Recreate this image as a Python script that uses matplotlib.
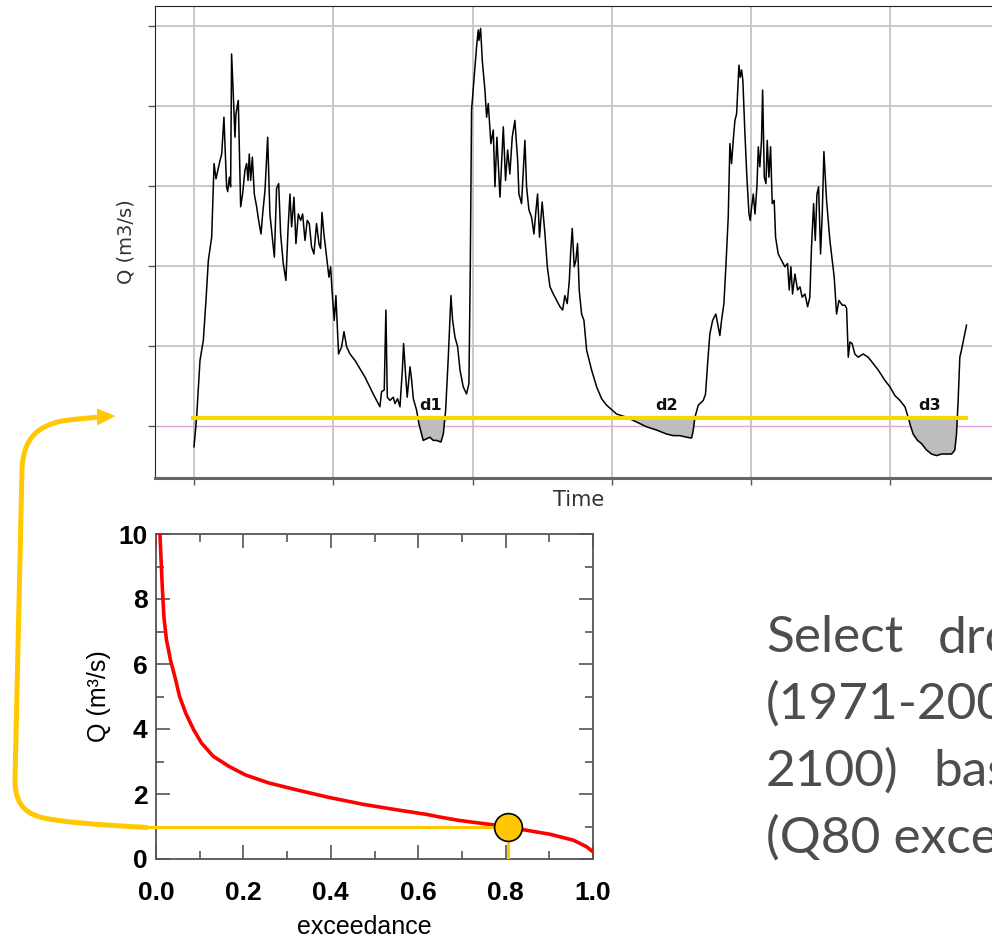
import numpy as np
import matplotlib
matplotlib.use("Agg")
import matplotlib.pyplot as plt
from matplotlib.path import Path
from matplotlib.patches import PathPatch, Polygon
from matplotlib.transforms import Affine2D

W, H = 992, 942

# hydrograph (time in grid steps, Q in grid units)
time = [
    0.000, 0.019, 0.043, 0.067, 0.086, 0.103, 0.127, 0.144, 0.158, 0.187,
    0.199, 0.215, 0.234, 0.242, 0.254, 0.263, 0.270, 0.282, 0.294, 0.301,
    0.318, 0.335, 0.349, 0.366, 0.378, 0.388, 0.397, 0.407, 0.419, 0.433,
    0.450, 0.464, 0.481, 0.493, 0.510, 0.529, 0.545, 0.577, 0.593, 0.608,
    0.622, 0.641, 0.660, 0.675, 0.689, 0.701, 0.718, 0.732, 0.749, 0.766,
    0.780, 0.797, 0.813, 0.828, 0.844, 0.861, 0.880, 0.897, 0.909, 0.919,
    0.933, 0.952, 0.969, 0.981, 0.993, 1.007, 1.019, 1.038, 1.060, 1.077,
    1.096, 1.120, 1.156, 1.228, 1.287, 1.335, 1.347, 1.366, 1.378, 1.388,
    1.407, 1.431, 1.443, 1.462, 1.479, 1.496, 1.505, 1.519, 1.531, 1.551,
    1.563, 1.575, 1.598, 1.615, 1.646, 1.670, 1.694, 1.718, 1.742, 1.773,
    1.790, 1.807, 1.826, 1.845, 1.857, 1.874, 1.893, 1.910, 1.933, 1.957,
    1.974, 1.984, 1.993, 2.010, 2.029, 2.041, 2.046, 2.058, 2.070, 2.089,
    2.101, 2.113, 2.132, 2.149, 2.161, 2.175, 2.197, 2.221, 2.237, 2.252,
    2.268, 2.285, 2.304, 2.324, 2.333, 2.352, 2.376, 2.388, 2.405, 2.424,
    2.441, 2.453, 2.467, 2.481, 2.500, 2.520, 2.537, 2.556, 2.580, 2.604,
    2.628, 2.647, 2.663, 2.680, 2.695, 2.704, 2.716, 2.730, 2.742, 2.754,
    2.766, 2.783, 2.800, 2.819, 2.855, 2.891, 2.927, 2.963, 3.034, 3.106,
    3.178, 3.250, 3.321, 3.393, 3.441, 3.489, 3.537, 3.573, 3.585, 3.597,
    3.621, 3.657, 3.673, 3.688, 3.704, 3.724, 3.747, 3.764, 3.776, 3.788,
    3.805, 3.819, 3.836, 3.848, 3.860, 3.872, 3.884, 3.896, 3.913, 3.922,
    3.932, 3.941, 3.956, 3.970, 3.985, 3.994, 4.004, 4.016, 4.028, 4.042,
    4.052, 4.063, 4.075, 4.083, 4.095, 4.107, 4.116, 4.128, 4.140, 4.152,
    4.166, 4.176, 4.195, 4.219, 4.243, 4.262, 4.274, 4.286, 4.298, 4.315,
    4.334, 4.351, 4.367, 4.387, 4.406, 4.422, 4.434, 4.449, 4.461, 4.473,
    4.485, 4.499, 4.511, 4.523, 4.542, 4.566, 4.597, 4.614, 4.631, 4.655,
    4.674, 4.686, 4.698, 4.710, 4.726, 4.745, 4.769, 4.805, 4.841, 4.877,
    4.913, 4.961, 4.997, 5.033, 5.069, 5.105, 5.128, 5.147, 5.164, 5.195,
    5.224, 5.260, 5.296, 5.332, 5.368, 5.404, 5.440, 5.463, 5.475, 5.487,
    5.499, 5.511, 5.530, 5.547,
]
flow = [
    -0.26, 0.11, 0.82, 1.07, 1.57, 2.07, 2.36, 3.28, 3.09, 3.32,
    3.40, 3.86, 2.99, 2.93, 3.11, 2.99, 4.65, 4.15, 3.61, 3.90,
    4.07, 2.74, 2.90, 3.20, 3.28, 3.07, 3.40, 3.07, 3.36, 2.90,
    2.74, 2.57, 2.40, 2.65, 2.95, 3.61, 2.65, 2.11, 2.97, 3.03,
    2.40, 2.03, 1.82, 2.45, 2.90, 2.49, 2.86, 2.28, 2.65, 2.57,
    2.65, 2.32, 2.57, 2.53, 2.24, 2.15, 2.53, 2.28, 2.22, 2.67,
    2.40, 2.11, 1.86, 1.99, 1.65, 1.32, 1.63, 0.90, 0.99, 1.18,
    0.99, 0.90, 0.82, 0.61, 0.40, 0.24, 0.43, 0.45, 1.45, 0.36,
    0.32, 0.36, 0.28, 0.34, 0.24, 0.70, 1.03, 0.65, 0.36, 0.74,
    0.57, 0.34, 0.20, 0.03, -0.18, -0.16, -0.14, -0.18, -0.18, -0.20,
    -0.10, 0.20, 0.86, 1.63, 1.32, 1.11, 0.99, 0.70, 0.49, 0.40,
    0.53, 1.99, 3.95, 4.32, 4.74, 4.95, 4.82, 4.97, 4.57, 4.20,
    3.86, 4.03, 3.53, 3.70, 2.99, 3.61, 2.86, 3.74, 3.07, 3.45,
    3.15, 3.61, 3.82, 3.32, 2.90, 2.78, 3.57, 2.99, 2.70, 2.61,
    2.40, 2.65, 2.90, 2.36, 2.80, 2.40, 1.99, 1.74, 1.65, 1.57,
    1.49, 1.45, 1.63, 1.53, 1.82, 2.15, 2.47, 1.99, 2.07, 2.28,
    1.70, 1.40, 1.32, 0.95, 0.70, 0.49, 0.34, 0.26, 0.15, 0.11,
    0.05, -0.01, -0.05, -0.10, -0.12, -0.12, -0.14, -0.15, -0.05, 0.11,
    0.26, 0.32, 0.40, 0.78, 1.15, 1.32, 1.40, 1.24, 1.13, 1.32,
    1.53, 1.99, 2.61, 3.53, 3.28, 3.57, 3.82, 3.90, 4.51, 4.36,
    4.45, 4.32, 3.65, 3.11, 2.65, 2.57, 2.74, 2.90, 2.65, 2.99,
    3.49, 3.24, 3.57, 4.20, 3.11, 3.03, 3.57, 3.11, 3.49, 2.78,
    2.82, 2.36, 2.15, 2.07, 1.99, 2.03, 1.70, 1.99, 1.65, 1.90,
    1.70, 1.74, 1.61, 1.65, 1.49, 1.61, 2.24, 2.78, 2.32, 2.90,
    2.99, 2.15, 2.65, 3.43, 2.82, 2.32, 1.86, 1.40, 1.57, 1.51,
    1.51, 1.47, 0.86, 1.05, 1.03, 0.90, 0.86, 0.90, 0.86, 0.78,
    0.70, 0.57, 0.49, 0.38, 0.32, 0.24, 0.11, -0.01, -0.10, -0.18,
    -0.22, -0.30, -0.35, -0.37, -0.35, -0.35, -0.35, -0.30, -0.10, 0.32,
    0.86, 0.95, 1.11, 1.26,
]
threshold = 0.10
threshold_span = [-0.02, 5.56]
drought_names = ["d1", "d2", "d3"]
drought_at = [1.70, 3.39, 5.28]

# flow duration curve
exceedance = [0.009, 0.014, 0.018, 0.024, 0.033, 0.045, 0.054, 0.068, 0.086, 0.104,
              0.131, 0.167, 0.204, 0.258, 0.321, 0.394, 0.475, 0.548, 0.620, 0.650,
              0.692, 0.772, 0.805, 0.837, 0.902, 0.955, 0.985, 1.000]
fdc_q = [10.0, 8.48, 7.46, 6.74, 6.13, 5.51, 5.00, 4.49, 3.98, 3.57,
         3.16, 2.85, 2.59, 2.34, 2.13, 1.90, 1.68, 1.52, 1.37, 1.29,
         1.19, 1.05, 0.99, 0.91, 0.76, 0.58, 0.38, 0.22]
q80_exc = 0.805
q80 = 0.98

text_lines = [["Select", "drought"], ["(1971-2000)"], ["2100)", "based"], ["(Q80 exceedance)"]]

plt.rcParams.update({"font.family": "DejaVu Sans"})
fig = plt.figure(figsize=(W / 100, H / 100), dpi=100)
fig.patch.set_facecolor("white")

# ---- hydrograph ----
ax = fig.add_axes([155 / W, 1 - 478 / H, 1 - 155 / W, 472 / H])
ax.set_xlim(-0.28, 5.73)
ax.set_ylim(-0.65, 5.25)
ax.set_xticks(range(6))
ax.set_yticks(range(6))
ax.tick_params(labelbottom=False, labelleft=False, direction="out", colors="#555555",
               length=5, width=1.0)
ax.grid(True, color="#c8c8c8", linewidth=1.4)
ax.get_ygridlines()[0].set_color("#d9a8d9")
ax.get_ygridlines()[0].set_linewidth(1.0)
ax.spines["right"].set_visible(False)
ax.spines["left"].set_color("#222222")
ax.spines["top"].set_color("#222222")
ax.spines["bottom"].set_color("#666666")
ax.spines["bottom"].set_linewidth(2.2)
t = np.array(time)
q = np.array(flow)
ax.fill_between(t, q, threshold, where=q < threshold, interpolate=True,
                color="#bdbdbd", zorder=2)
ax.plot(t, q, color="black", linewidth=1.1, zorder=3)
ax.hlines(threshold, *threshold_span, color="#f5d800", linewidth=3.0, zorder=4)
for name, x in zip(drought_names, drought_at):
    ax.text(x, 0.26, name, ha="center", va="center", fontsize=11.5,
            fontweight="bold", color="#111111", zorder=5)
fig.text(126 / W, 1 - 242 / H, "Q (m3/s)", rotation=90, ha="center", va="center",
         fontsize=14, color="#333333")
fig.text(579 / W, 1 - 500 / H, "Time", ha="center", va="center", fontsize=15,
         color="#333333")

# ---- flow duration curve ----
bx = fig.add_axes([156 / W, 1 - 859 / H, 437 / W, 325 / H])
bx.set_xlim(0, 1)
bx.set_ylim(0, 10)
bx.set_xticks(np.arange(0, 1.01, 0.2))
bx.set_xticks(np.arange(0, 1.01, 0.1), minor=True)
bx.set_yticks(range(0, 11, 2))
bx.set_yticks(range(0, 11), minor=True)
bx.tick_params(which="both", direction="in", top=True, right=True, colors="#444444",
               width=1.1, labelcolor="black")
bx.tick_params(which="major", length=10)
bx.tick_params(which="minor", length=6)
bx.tick_params(axis="x", pad=16)
bx.tick_params(axis="y", pad=6)
bx.set_xticklabels([f"{v:.1f}" for v in np.arange(0, 1.01, 0.2)])
for lab in bx.get_xticklabels() + bx.get_yticklabels():
    lab.set_fontfamily("Liberation Sans")
    lab.set_fontweight("bold")
    lab.set_fontsize(19)
for sp in bx.spines.values():
    sp.set_color("#555555")
    sp.set_linewidth(1.3)
bx.plot(exceedance, fdc_q, color="#ff0000", linewidth=2.6, zorder=3)
bx.plot([-0.02, q80_exc], [q80, q80], color="#ffc800", linewidth=2.2, zorder=4,
        clip_on=False, solid_capstyle="butt")
bx.plot([q80_exc, q80_exc], [0, q80], color="#ffc800", linewidth=2.2, zorder=4)
bx.plot([q80_exc], [q80], "o", markersize=20, markerfacecolor="#ffc800",
        markeredgecolor="black", markeredgewidth=1.2, zorder=5)
fig.text(364 / W, 1 - 927 / H, "exceedance", ha="center", va="center", fontsize=18,
         family="Liberation Sans")
fig.text(99 / W, 1 - 696 / H, "Q (m³/s)", rotation=90, ha="center", va="center",
         fontsize=18, family="Liberation Sans")

# ---- connector arrow (pixel coordinates, origin top-left) ----
px = Affine2D().scale(1 / W, -1 / H).translate(0, 1) + fig.transFigure
verts = [(148, 827.5), (100, 825), (58, 822), (40, 817),
         (22, 812), (15, 800), (15, 780),
         (22, 470),
         (23, 438), (38, 426), (62, 421),
         (75, 419), (88, 418), (100, 417)]
codes = [Path.MOVETO] + [Path.CURVE4] * 6 + [Path.LINETO] + [Path.CURVE4] * 6
fig.patches.append(PathPatch(Path(verts, codes), fill=False, edgecolor="#ffc800",
                             linewidth=3.6, transform=px, capstyle="butt"))
fig.patches.append(Polygon([(97, 408.5), (115.5, 416), (97, 425.5)], closed=True,
                           facecolor="#ffc800", edgecolor="none", transform=px))

# ---- side text (runs off the right edge, as in the reference) ----
baselines = [652, 719, 786, 853]
second_x = {"drought": 938, "based": 933}
for words, yb in zip(text_lines, baselines):
    fig.text(766 / W, 1 - yb / H, words[0], ha="left", va="baseline", fontsize=37,
             family="Lato", color="#4d4d4d")
    for w in words[1:]:
        fig.text(second_x[w] / W, 1 - yb / H, w, ha="left", va="baseline", fontsize=37,
                 family="Lato", color="#4d4d4d")

fig.savefig("out.png", dpi=100)
